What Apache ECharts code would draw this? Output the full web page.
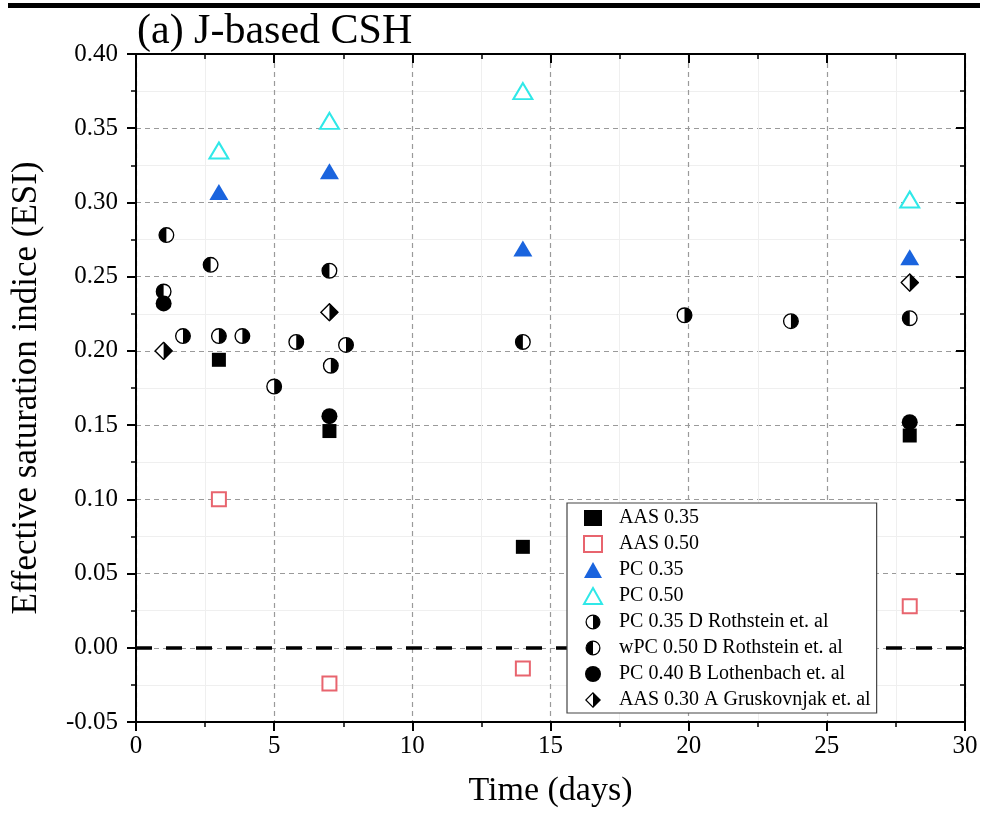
<!DOCTYPE html>
<html>
<head>
<meta charset="utf-8">
<script src="https://cdn.jsdelivr.net/npm/echarts@6/dist/echarts.min.js"></script>
<style>
  html, body { margin: 0; padding: 0; background: #fff; }
  #main { width: 983px; height: 825px; }
</style>
</head>
<body>
<div id="main"></div>
<script>
// data: [time (days), ESI]
var aas035 = [[3, 0.194], [7, 0.146], [14, 0.068], [28, 0.143]];
var aas050 = [[3, 0.100], [7, -0.024], [14, -0.014], [28, 0.028]];
var pc035 = [[3, 0.307], [7, 0.321], [14, 0.269], [28, 0.263]];
var pc050 = [[3, 0.335], [7, 0.355], [14, 0.375], [28, 0.302]];
var pc035Roth = [[1.7, 0.210], [3.0, 0.210], [3.85, 0.210], [5.0, 0.176], [5.8, 0.206],
                 [7.05, 0.190], [7.6, 0.204], [19.85, 0.224], [23.7, 0.220]];
var wpc050Roth = [[1.1, 0.278], [2.7, 0.258], [1.0, 0.240], [7.0, 0.254], [14, 0.206], [28, 0.222]];
var pc040Loth = [[1, 0.232], [7, 0.156], [28, 0.152]];
var aas030Grus = [[1, 0.200], [7, 0.226], [28, 0.246]];

var names = ['AAS 0.35', 'AAS 0.50', 'PC 0.35', 'PC 0.50',
             'PC 0.35 D Rothstein et. al', 'wPC 0.50 D Rothstein et. al',
             'PC 0.40 B Lothenbach et. al', 'AAS 0.30 A Gruskovnjak et. al'];

var FONT = 'Liberation Serif';

// half filled markers as small svg pictures
function svgSym(body) {
    var s = "<svg xmlns='http://www.w3.org/2000/svg' width='20' height='20' viewBox='0 0 20 20'>" + body + "</svg>";
    return 'image://data:image/svg+xml;charset=utf-8,' + encodeURIComponent(s);
}
var circRight = svgSym("<circle cx='10' cy='10' r='8.6' fill='white' stroke='black' stroke-width='1.6'/>" +
    "<path d='M10 1.4 A8.6 8.6 0 0 1 10 18.6 Z' fill='black'/>");
var circLeft = svgSym("<circle cx='10' cy='10' r='8.6' fill='white' stroke='black' stroke-width='1.6'/>" +
    "<path d='M10 1.4 A8.6 8.6 0 0 0 10 18.6 Z' fill='black'/>");
var diamHalf = svgSym("<polygon points='10,1 19,10 10,19 1,10' fill='white' stroke='black' stroke-width='1.5' stroke-linejoin='miter'/>" +
    "<polygon points='10,1 19,10 10,19' fill='black'/>");

function xAx(pos) {
    var bottom = pos === 'bottom';
    return {
        type: 'value', position: pos, min: 0, max: 30, interval: 5,
        axisLine: { show: true, onZero: false, lineStyle: { color: '#000', width: 2 } },
        axisTick: { show: true, inside: !bottom, length: 9, lineStyle: { color: '#000', width: 2 } },
        minorTick: { show: true, splitNumber: 2, length: 5, lineStyle: { color: '#000', width: 1.5 } },
        axisLabel: { show: bottom, color: '#000', fontFamily: FONT, fontSize: 25, margin: 12 },
        splitLine: { show: bottom, lineStyle: { color: '#9a9a9a', type: [5, 4], width: 1.2 } },
        minorSplitLine: { show: bottom, lineStyle: { color: '#efefef', width: 1 } },
        name: bottom ? 'Time (days)' : '',
        nameLocation: 'middle', nameGap: 52,
        nameTextStyle: { color: '#000', fontFamily: FONT, fontSize: 34 }
    };
}
function yAx(pos) {
    var left = pos === 'left';
    return {
        type: 'value', position: pos, min: -0.05, max: 0.40, interval: 0.05,
        axisLine: { show: true, onZero: false, lineStyle: { color: '#000', width: 2 } },
        axisTick: { show: true, inside: !left, length: 9, lineStyle: { color: '#000', width: 2 } },
        minorTick: { show: true, splitNumber: 2, length: 5, lineStyle: { color: '#000', width: 1.5 } },
        axisLabel: {
            show: left, color: '#000', fontFamily: FONT, fontSize: 25, margin: 18,
            formatter: function (v) { return v.toFixed(2); }
        },
        splitLine: { show: left, lineStyle: { color: '#9a9a9a', type: [5, 4], width: 1.2 } },
        minorSplitLine: { show: left, lineStyle: { color: '#efefef', width: 1 } },
        name: left ? 'Effective saturation indice (ESI)' : '',
        nameLocation: 'middle', nameGap: 92, nameRotate: 90,
        nameTextStyle: { color: '#000', fontFamily: FONT, fontSize: 35 }
    };
}

var myChart = echarts.init(document.getElementById('main'));
var option = {
    animation: false,
    backgroundColor: '#fff',
    title: {
        text: '(a) J-based CSH', left: 132, top: 6,
        textStyle: { fontFamily: FONT, fontSize: 42, fontWeight: 'normal', color: '#000' }
    },
    graphic: [{
        type: 'rect', left: 8, top: 3,
        shape: { width: 972, height: 5 },
        style: { fill: '#000' }
    }],
    grid: { left: 136, right: 18, top: 54, bottom: 103, containLabel: false },
    xAxis: [xAx('bottom'), xAx('top')],
    yAxis: [yAx('left'), yAx('right')],
    legend: {
        orient: 'vertical', left: 567, top: 503, z: 100,
        padding: [5, 6, 3, 16],
        itemGap: 6, itemWidth: 18, itemHeight: 16,
        backgroundColor: '#fff', borderColor: '#444', borderWidth: 1.2,
        textStyle: { fontFamily: FONT, fontSize: 20, color: '#000', lineHeight: 20, padding: [0, 0, 0, 12] },
        data: names
    },
    series: [
        {
            name: names[0], type: 'scatter', data: aas035, symbol: 'rect', symbolSize: 14,
            itemStyle: { color: '#000', opacity: 1 },
            markLine: {
                silent: true, symbol: 'none', label: { show: false },
                lineStyle: { color: '#000', width: 3.5, type: [16, 14] },
                data: [{ yAxis: 0 }]
            }
        },
        {
            name: names[1], type: 'scatter', data: aas050, symbol: 'emptyRect', symbolSize: 14,
            itemStyle: { color: '#e8646e', borderWidth: 1.5, opacity: 1 }
        },
        {
            name: names[2], type: 'scatter', data: pc035, symbol: 'triangle', symbolSize: [19, 16],
            itemStyle: { color: '#1a64de', opacity: 1 }
        },
        {
            name: names[3], type: 'scatter', data: pc050, symbol: 'emptyTriangle', symbolSize: [19, 16],
            itemStyle: { color: '#2fe8e8', borderWidth: 1.5, opacity: 1 }
        },
        { name: names[4], type: 'scatter', data: pc035Roth, symbol: circRight, symbolSize: 17, itemStyle: { opacity: 1 } },
        { name: names[5], type: 'scatter', data: wpc050Roth, symbol: circLeft, symbolSize: 17, itemStyle: { opacity: 1 } },
        {
            name: names[6], type: 'scatter', data: pc040Loth, symbol: 'circle', symbolSize: 16,
            itemStyle: { color: '#000', opacity: 1 }
        },
        { name: names[7], type: 'scatter', data: aas030Grus, symbol: diamHalf, symbolSize: 19, itemStyle: { opacity: 1 } }
    ]
};
myChart.setOption(option);
</script>
</body>
</html>
